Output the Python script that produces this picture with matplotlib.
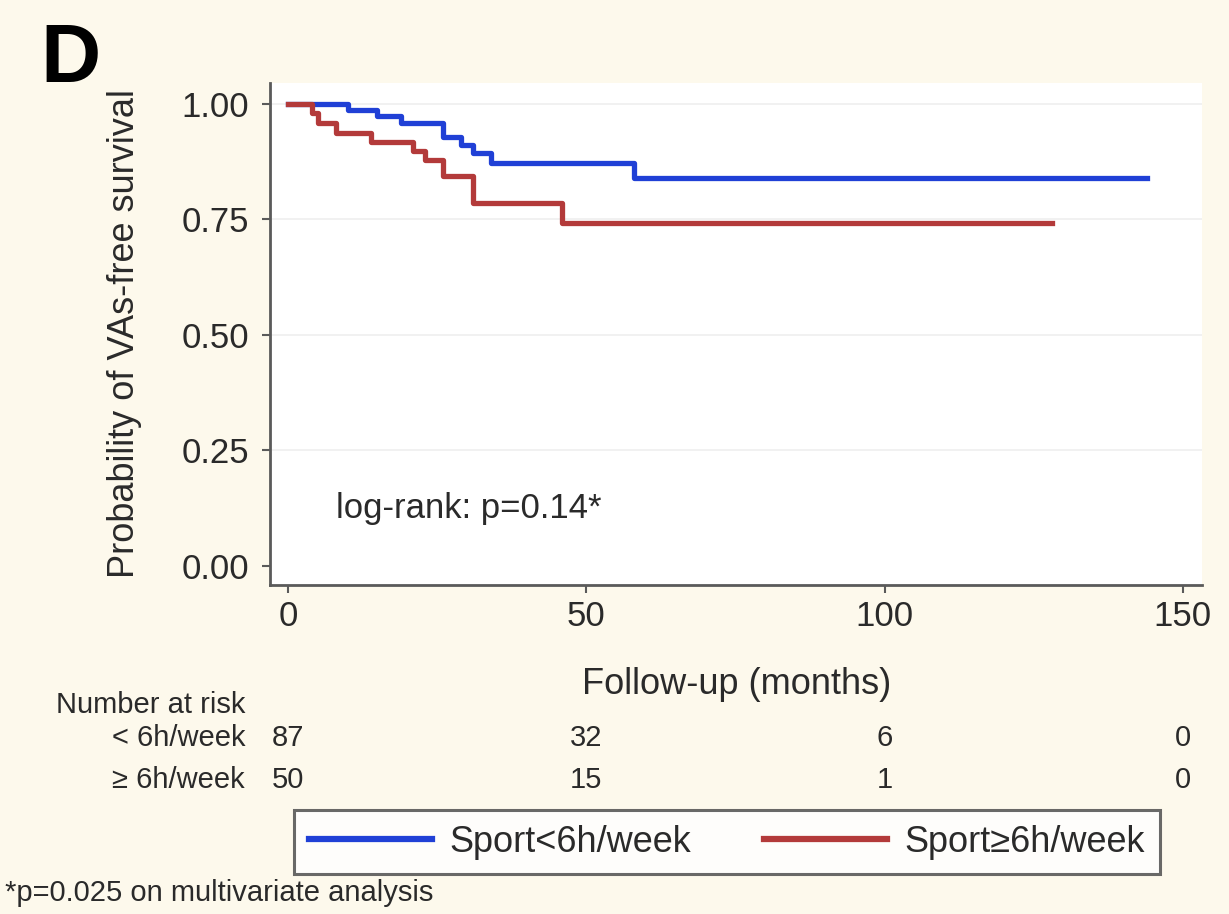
import matplotlib
matplotlib.use('Agg')
import matplotlib.pyplot as plt
import matplotlib.transforms as mtransforms

plt.rcParams['font.family'] = ['Liberation Sans', 'DejaVu Sans']

# Kaplan-Meier steps (months, survival)
months_lt6 = [0, 10, 15, 19, 26, 29, 31, 34, 58, 144]
surv_lt6 = [1.0, 0.987, 0.974, 0.958, 0.929, 0.911, 0.894, 0.872, 0.840, 0.840]

months_ge6 = [0, 4, 5, 8, 14, 21, 23, 26, 31, 46, 128]
surv_ge6 = [1.0, 0.98, 0.958, 0.937, 0.918, 0.897, 0.879, 0.843, 0.786, 0.742, 0.742]

# number at risk table
risk_times = [0, 50, 100, 150]
risk_lt6 = [87, 32, 6, 0]
risk_ge6 = [50, 15, 1, 0]

x_ticks = [0, 50, 100, 150]
y_ticks = [0.0, 0.25, 0.5, 0.75, 1.0]

W, H = 1229, 914
bg = '#fdf9ec'
txt = '#2a2a2a'
blue = '#2040d6'
red = '#b33a3a'


def fx(px):
    return px / W


def fy(py):
    return 1 - py / H


fig = plt.figure(figsize=(W / 100, H / 100), dpi=100, facecolor=bg)
ax = fig.add_axes([fx(270), fy(585), fx(1202) - fx(270), fy(83) - fy(585)])
ax.set_facecolor('white')

# gridlines
for yv in [0.25, 0.5, 0.75, 1.0]:
    ax.axhline(yv, color='#efefef', lw=1.2, zorder=0)

ax.step(months_lt6, surv_lt6, where='post', color=blue, lw=3.8, label='Sport<6h/week')
ax.step(months_ge6, surv_ge6, where='post', color=red, lw=3.8, label='Sport≥6h/week')

ax.set_xlim(-3, 153.2)
ax.set_ylim(-0.041, 1.045)
ax.set_xticks(x_ticks)
ax.set_yticks(y_ticks)
ax.set_yticklabels([f'{v:.2f}' for v in y_ticks])

for s in ['top', 'right']:
    ax.spines[s].set_visible(False)
for s in ['left', 'bottom']:
    ax.spines[s].set_color('#5a5a5a')
    ax.spines[s].set_linewidth(2)
ax.tick_params(axis='both', colors='#5a5a5a', labelcolor=txt, labelsize=25,
               length=6, width=1.5, direction='out')
ax.tick_params(axis='y', pad=9)
ax.tick_params(axis='x', pad=5)

ax.text(8, 0.125, 'log-rank: p=0.14*', fontsize=25, color=txt, va='center', ha='left')

# panel letter and axis titles
fig.text(fx(70), fy(60), 'D', fontsize=60, fontweight='bold', color='black', ha='center', va='center')
fig.text(fx(125), fy(334), 'Probability of VAs-free survival', fontsize=26, color=txt,
         rotation=90, ha='center', va='center')
fig.text(fx(737), fy(685), 'Follow-up (months)', fontsize=26, color=txt, ha='center', va='center')

# number at risk
trans = mtransforms.blended_transform_factory(ax.transData, fig.transFigure)
fig.text(fx(245), fy(705), 'Number at risk', fontsize=21, color=txt, ha='right', va='center')
fig.text(fx(245), fy(738), '< 6h/week', fontsize=21, color=txt, ha='right', va='center')
fig.text(fx(245), fy(780), '≥ 6h/week', fontsize=21, color=txt, ha='right', va='center')
for t, a, b in zip(risk_times, risk_lt6, risk_ge6):
    fig.text(t, fy(738), str(a), fontsize=21, color=txt, ha='center', va='center', transform=trans)
    fig.text(t, fy(780), str(b), fontsize=21, color=txt, ha='center', va='center', transform=trans)

leg = fig.legend(loc='center', bbox_to_anchor=(fx(727), fy(842)), ncol=2, fontsize=26,
                 frameon=True, fancybox=False, edgecolor='#444444', facecolor='white',
                 handlelength=3.4, handletextpad=0.5, columnspacing=2.0, borderpad=0.4,
                 labelcolor=txt)
leg.get_frame().set_linewidth(2.2)
for line in leg.get_lines():
    line.set_linewidth(4.5)

fig.text(fx(5), fy(893), '*p=0.025 on multivariate analysis', fontsize=21, color=txt,
         ha='left', va='center')

fig.savefig('out.png', dpi=100, facecolor=bg)
